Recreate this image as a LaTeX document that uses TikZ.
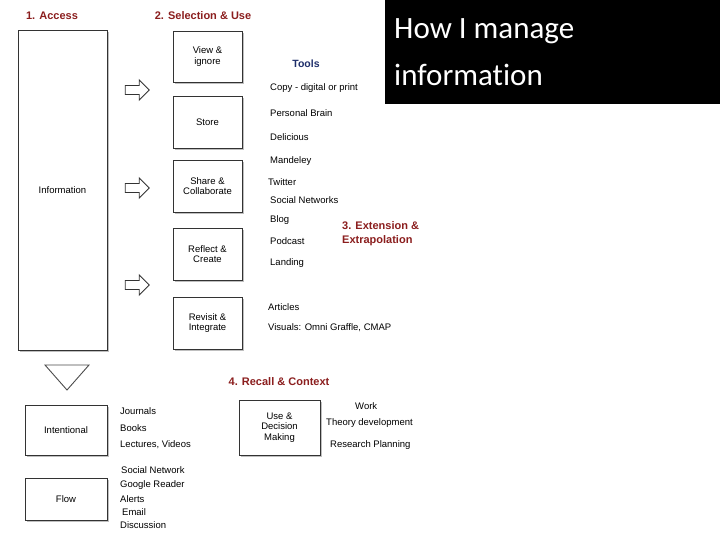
\documentclass[tikz,border=0pt]{standalone}
\usepackage{fontspec}
\setmainfont{Liberation Sans}
\newfontfamily\titlefont[Ligatures=NoCommon]{Carlito}
\usetikzlibrary{shadows,shapes.arrows}
\definecolor{hred}{HTML}{8B1E1E}
\definecolor{hblue}{HTML}{1F2F6B}
\begin{document}
\begin{tikzpicture}[x=1pt,y=-1pt,
  box/.style={draw=black!80,line width=0.9pt,fill=white,drop shadow={shadow xshift=2pt,shadow yshift=-2pt,opacity=0.5},align=center,font=\fontsize{9.5}{10.5}\selectfont,inner sep=0pt},
  item/.style={anchor=west,font=\fontsize{9.5}{10.5}\selectfont,inner sep=0pt},
  head/.style={font=\fontsize{11}{12}\selectfont\bfseries,text=hred,inner sep=0pt},
  barrow/.style={single arrow,draw=black!80,line width=0.9pt,fill=white,minimum height=24pt,minimum width=20pt,single arrow head extend=3pt,inner sep=2pt}]
\useasboundingbox (0,0) rectangle (720,540);
\fill[white] (0,0) rectangle (720,540);
\node[head] (h1) at (52,16) {1. Access};
\node[head] (h2) at (203,16) {2. Selection \& Use};
\node[box,minimum width=89pt,minimum height=320pt] (info) at (62.5,190) {Information};
\node[box,minimum width=69pt,minimum height=51pt] (b1) at (207.5,56.5) {View \&\\ignore};
\node[box,minimum width=69pt,minimum height=52pt] (b2) at (207.5,122) {Store};
\node[box,minimum width=69pt,minimum height=52pt] (b3) at (207.5,186) {Share \&\\Collaborate};
\node[box,minimum width=69pt,minimum height=52pt] (b4) at (207.5,254) {Reflect \&\\Create};
\node[box,minimum width=69pt,minimum height=52pt] (b5) at (207.5,323) {Revisit \&\\Integrate};
\node[barrow] (a1) at (135,90) {};
\node[barrow] (a2) at (135,188) {};
\node[barrow] (a3) at (135,285) {};
\node[font=\fontsize{10.5}{11}\selectfont\bfseries,text=hblue,inner sep=0pt] (tools) at (306,64) {Tools};
\node[item] (t1) at (270,88) {Copy - digital or print};
\node[item] (t2) at (270,113) {Personal Brain};
\node[item] (t3) at (270,137) {Delicious};
\node[item] (t4) at (270,161) {Mandeley};
\node[item] (t5) at (268,182) {Twitter};
\node[item] (t6) at (270,200) {Social Networks};
\node[item] (t7) at (270,220) {Blog};
\node[item] (t8) at (270,241) {Podcast};
\node[item] (t9) at (270,263) {Landing};
\node[item] (t10) at (268,307) {Articles};
\node[item] (t11) at (268,328) {Visuals: Omni Graffle, CMAP};
\node[head,align=left,anchor=west,font=\fontsize{11}{14}\selectfont\bfseries] (h3) at (342,234) {3. Extension \&\\Extrapolation};
\node[fill=black,minimum width=335pt,minimum height=104pt,inner sep=0pt] (blk) at (552.5,52) {};
\node[text=white,anchor=west,align=left,font=\titlefont\fontsize{31}{47}\selectfont,inner sep=0pt] (title) at (394,52) {How I manage\\information};
\draw[black!70,line width=0.9pt,fill=white] (45,365) -- (89,365) -- (67,390) -- cycle;
\node[box,minimum width=82pt,minimum height=50pt] (int) at (66,430) {Intentional};
\node[box,minimum width=82pt,minimum height=42pt] (flow) at (66,499) {Flow};
\node[item] (i1) at (120,411) {Journals};
\node[item] (i2) at (120,428) {Books};
\node[item] (i3) at (120,445) {Lectures, Videos};
\node[item] (i4) at (121,470) {Social Network};
\node[item] (i5) at (120,485) {Google Reader};
\node[item] (i6) at (120,499) {Alerts};
\node[item] (i7) at (122,512) {Email};
\node[item] (i8) at (120,525) {Discussion};
\node[head] (h4) at (279,382) {4. Recall \& Context};
\node[box,minimum width=81pt,minimum height=55pt] (use) at (279.5,427.5) {Use \&\\Decision\\Making};
\node[item] (w1) at (355,406) {Work};
\node[item] (w2) at (326,423) {Theory development};
\node[item] (w3) at (330,445) {Research Planning};
\end{tikzpicture}
\end{document}
